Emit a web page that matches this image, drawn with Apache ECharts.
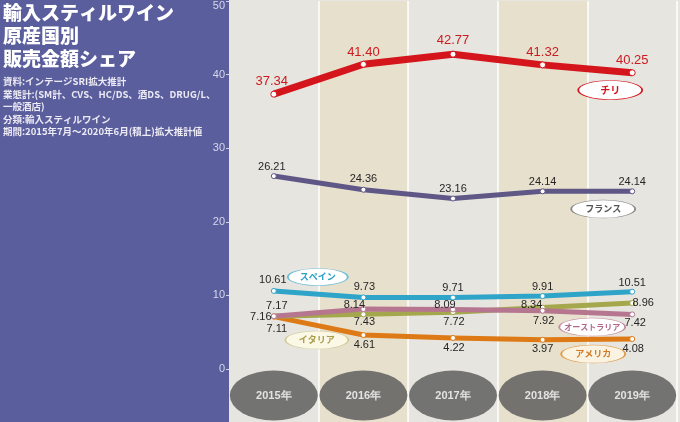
<!DOCTYPE html>
<html><head><meta charset="utf-8">
<script src="https://cdn.jsdelivr.net/npm/echarts@6/dist/echarts.min.js"></script>
<style>html,body{margin:0;padding:0;background:#e7e5e0;}#c{width:680px;height:422px;}</style>
</head><body><div id="c"></div>
<script>
// ---- data ----
const years = ['2015年', '2016年', '2017年', '2018年', '2019年'];
const chile = [37.34, 41.40, 42.77, 41.32, 40.25];
const france = [26.21, 24.36, 23.16, 24.14, 24.14];
const spain = [10.61, 9.73, 9.71, 9.91, 10.51];
const australia = [7.17, 8.14, 8.09, 7.92, 7.42];
const italy = [7.16, 7.43, 7.72, 8.34, 8.96];
const usa = [7.11, 4.61, 4.22, 3.97, 4.08];
const yMin = 0, yMax = 50, yStep = 10;
const titleText = '輸入スティルワイン\n原産国別\n販売金額シェア';
const noteText = '資料:インテージSRI拡大推計\n業態計:(SM計、CVS、HC/DS、酒DS、DRUG/L、\n一般酒店)\n分類:輸入スティルワイン\n期間:2015年7月〜2020年6月(積上)拡大推計値';

// ---- pick the narrowest available font for numbers ----
const probe = document.createElement('canvas').getContext('2d');
const candidates = [
  { style: '', family: '"Liberation Sans Narrow"' },
  { style: '', family: '"DejaVu Sans Condensed"' },
  { style: '', family: '"Liberation Sans"' }
];
let NUM = candidates[candidates.length - 1], best = Infinity;
candidates.forEach(c => {
  probe.font = '11px serif';
  probe.font = '11px ' + c.family + ', serif';
  const w = probe.measureText('26.21 0123456789').width;
  if (w < best - 0.5) { best = w; NUM = c; }
});
const NUM_FONT = NUM.family + ',sans-serif';
const JP_FONT = '"Noto Sans CJK JP","Noto Sans",sans-serif';

// ---- layout / style (kept apart from data) ----
const shifts = {
  chile: [[-2,-13],[0,-12],[0,-14],[0,-12],[0,-12]],
  france: [[-2,-9],[0,-11],[0,-10],[0,-9],[0,-9]],
  spain: [[-1,-11],[1,-10],[0,-10],[0,-9],[0,-9]],
  australia: [[3,-10],[-9,-4],[-8,-4],[1,10],[3,9]],
  italy: [[-13,1],[1,8],[1,10],[-11,-3],[11,0]],
  usa: [[3,12],[1,10],[1,10],[0,9],[1,10]]
};

function lineSeries(opt) {
  return {
    type: 'line', name: opt.name, xAxisIndex: 0, yAxisIndex: 0, z: opt.z,
    data: opt.values.map((v, i) => ({ value: v, label: { offset: opt.shift[i] } })),
    symbol: 'circle', symbolSize: opt.sym || 5,
    itemStyle: { color: '#fff', borderColor: opt.color, borderWidth: 1 },
    lineStyle: { color: opt.color, width: opt.width, join: 'round' },
    label: {
      show: true, position: 'inside', formatter: p => p.value.toFixed(2),
      color: opt.labelColor || '#262626', fontSize: opt.fontSize || 11, fontFamily: NUM_FONT
    },
    markPoint: {
      silent: true, symbol: 'circle', symbolSize: opt.tag.size,
      itemStyle: { color: opt.tag.fill, borderColor: opt.tag.border, borderWidth: 1 },
      label: { show: true, position: 'inside', formatter: '{b}', color: opt.tag.text,
        fontSize: opt.tag.font || 9, fontWeight: 'bold', fontFamily: JP_FONT },
      data: [{ name: opt.name, coord: [opt.tag.cat, opt.tag.val], symbolOffset: [opt.tag.dx, 0] }]
    }
  };
}

const chart = echarts.init(document.getElementById('c'), null, { renderer: 'canvas' });
chart.setOption({
  animation: false,
  backgroundColor: '#e7e5e0',
  graphic: [{ type: 'rect', z: -1, shape: { x: 0, y: 0, width: 229, height: 422 }, style: { fill: '#5a5e9c' } }],
  title: {
    text: titleText, subtext: noteText, left: 3, top: 1, itemGap: 5, padding: 0,
    textStyle: { color: '#ffffff', fontSize: 19, lineHeight: 23, fontWeight: 900, fontFamily: JP_FONT },
    subtextStyle: { color: '#eceaf4', fontSize: 9.5, lineHeight: 12.6, fontWeight: 'bold', fontFamily: JP_FONT }
  },
  grid: [
    { left: 229, top: 1, width: 448, height: 368 },
    { left: 229, top: 369, width: 448, bottom: 0 }
  ],
  xAxis: [
    { type: 'category', gridIndex: 0, data: years, boundaryGap: true,
      axisLine: { show: false }, axisTick: { show: false }, axisLabel: { show: false },
      splitArea: { show: true, areaStyle: { color: ['#e7e5e0', '#e7e0cc'] } },
      splitLine: { show: true, interval: (i) => i !== 0, lineStyle: { color: '#ffffff', width: 1.5 } } },
    { type: 'category', gridIndex: 1, data: years, boundaryGap: true,
      axisLine: { show: false }, axisTick: { show: false }, axisLabel: { show: false },
      splitArea: { show: true, areaStyle: { color: ['#e7e5e0', '#e7e0cc'] } },
      splitLine: { show: true, interval: (i) => i !== 0, lineStyle: { color: '#ffffff', width: 1.5 } } }
  ],
  yAxis: [
    { type: 'value', gridIndex: 0, min: yMin, max: yMax, interval: yStep,
      axisLine: { show: false },
      axisTick: { show: true, length: 3, lineStyle: { color: '#d0d2e6', type: 'dashed' } },
      axisLabel: { margin: 4, color: '#d6d8ea', fontSize: 11, fontFamily: NUM_FONT,
        formatter: v => v === yMax ? '{top|' + v + '}' : String(v),
        rich: { top: { padding: [9, 0, 0, 0], color: '#d6d8ea', fontSize: 11, fontFamily: NUM_FONT } } },
      splitLine: { show: true, lineStyle: { color: '#8a8a8a', type: [4, 3], width: 1 } } },
    { type: 'value', gridIndex: 1, min: 0, max: 1, show: false }
  ],
  series: [
    lineSeries({ name: 'アメリカ', values: usa, color: '#dd7a16', width: 5, shift: shifts.usa, z: 2,
      tag: { size: [64, 18], fill: '#fbf3e2', border: '#e09a48', text: '#d07a22', cat: '2019年', val: 2.04, dx: -39 } }),
    lineSeries({ name: 'イタリア', values: italy, color: '#a4a74c', width: 5, shift: shifts.italy, z: 3,
      tag: { size: [63, 18], fill: '#fbf8e6', border: '#cfcb98', text: '#a89c4a', cat: '2015年', val: 3.94, dx: 43 } }),
    lineSeries({ name: 'オーストラリア', values: australia, color: '#b67690', width: 5, shift: shifts.australia, z: 3,
      tag: { size: [66, 18], fill: '#ffffff', border: '#c58aa4', text: '#b0688a', cat: '2019年', val: 5.71, dx: -40, font: 8 } }),
    lineSeries({ name: 'スペイン', values: spain, color: '#2ea4c9', width: 5, shift: shifts.spain, z: 4,
      tag: { size: [60, 17], fill: '#ffffff', border: '#6bbcd8', text: '#2a9fc6', cat: '2015年', val: 12.5, dx: 44 } }),
    lineSeries({ name: 'フランス', values: france, color: '#5f5886', width: 5, shift: shifts.france, z: 4,
      tag: { size: [64, 18], fill: '#ffffff', border: '#8a8a8a', text: '#555555', cat: '2019年', val: 21.74, dx: -29 } }),
    lineSeries({ name: 'チリ', values: chile, color: '#d4151c', width: 7, sym: 6, shift: shifts.chile, z: 5,
      labelColor: '#cc1a1f', fontSize: 13,
      tag: { size: [64, 19], fill: '#ffffff', border: '#d4151c', text: '#d4151c', cat: '2019年', val: 37.9, dx: -22, font: 10 } }),
    { type: 'scatter', xAxisIndex: 1, yAxisIndex: 1, silent: true,
      data: years.map(y => [y, 0.5]), symbol: 'circle', symbolSize: [88, 50],
      itemStyle: { color: '#565656' },
      label: { show: true, position: 'inside', formatter: p => p.value[0], color: '#ffffff', fontSize: 11,
        fontWeight: 'bold', fontFamily: NUM_FONT } }
  ]
});
</script></body></html>
